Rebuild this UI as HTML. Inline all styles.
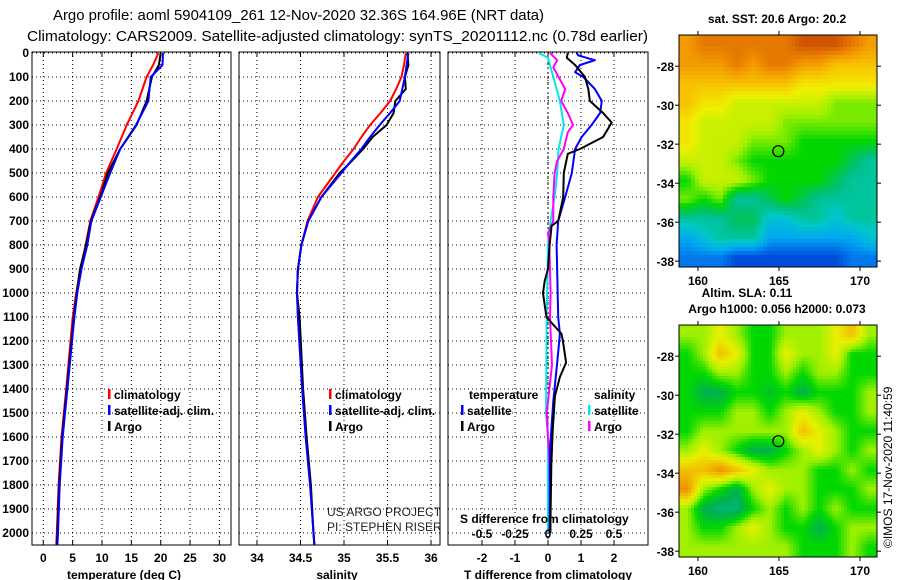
<!DOCTYPE html>
<html><head><meta charset="utf-8">
<style>
html,body{margin:0;padding:0;background:#fff;}
svg{display:block;font-family:"Liberation Sans",sans-serif;}
.lbl{font-size:12px;font-weight:bold;fill:#000;}
.ttl{font-size:15px;fill:#000;}
.grid{stroke:#000;stroke-width:1;stroke-dasharray:1,3;fill:none;}
.frame{fill:none;stroke:#000;stroke-width:1;}
.ln{fill:none;stroke-width:2;stroke-linejoin:round;}
</style></head>
<body>
<svg id="chart" width="900" height="580" viewBox="0 0 900 580" xmlns="http://www.w3.org/2000/svg">
<defs>
<clipPath id="c1"><rect x="32" y="52" width="199" height="493"/></clipPath>
<clipPath id="c2"><rect x="239" y="52" width="201" height="493"/></clipPath>
<clipPath id="c3"><rect x="448" y="52" width="200" height="493"/></clipPath>
</defs>
<text class="ttl" x="53" y="20" textLength="491" lengthAdjust="spacingAndGlyphs">Argo profile: aoml 5904109_261 12-Nov-2020 32.36S 164.96E (NRT data)</text>
<text class="ttl" x="27" y="41" textLength="621" lengthAdjust="spacingAndGlyphs">Climatology: CARS2009. Satellite-adjusted climatology: synTS_20201112.nc (0.78d earlier)</text>
<g id="g1"></g>
<g id="g2"></g>
<g id="g3"></g>
<g id="m1"></g>
<g id="m2"></g>
<text x="0" y="0" transform="translate(892,548) rotate(-90)" style="font-size:12px" fill="#000">©IMOS 17-Nov-2020 11:40:59</text>
</svg>
<script>
// ---- data ----
const depthTicks = [0,100,200,300,400,500,600,700,800,900,1000,1100,1200,1300,1400,1500,1600,1700,1800,1900,2000];
const tTicks = [0,5,10,15,20,25,30];
const sTicks = [34,34.5,35,35.5,36];
const tdTicks = [-2,-1,0,1,2];
const sdTicks = [-0.5,-0.25,0,0.25,0.5];
const sdTickLabels = ["-0.5","-0.25","0","0.25","0.5"];

const tDepth = [0,50,100,200,300,400,500,600,700,800,900,1000,1100,1400,1600,1800,2000,2050];
const tArgo = [20.0,19.7,18.5,17.6,15.9,13.1,11.0,9.7,8.1,7.3,6.25,5.7,5.2,4.0,3.2,2.7,2.4,2.3];
const tClim = [19.6,18.7,17.6,16.2,14.2,12.5,10.7,9.4,8.0,7.2,6.3,5.6,5.0,3.9,3.1,2.6,2.3,2.2];
const tSat = [20.4,20.3,18.3,17.9,15.8,13.1,11.4,9.8,8.2,7.5,6.5,5.8,5.3,4.1,3.3,2.8,2.5,2.4];

const sDepth = [0,50,100,150,200,250,300,350,400,450,500,600,700,800,900,1000,1100,1400,1600,1800,2000,2050];
const sArgo = [35.73,35.74,35.70,35.71,35.59,35.57,35.49,35.33,35.22,35.09,34.95,34.74,34.59,34.51,34.47,34.46,34.49,34.53,34.57,34.62,34.65,34.66];
const sClim = [35.71,35.69,35.66,35.60,35.53,35.42,35.30,35.20,35.11,35.00,34.90,34.70,34.58,34.51,34.47,34.46,34.47,34.52,34.56,34.61,34.65,34.66];
const sSat = [35.74,35.72,35.70,35.67,35.64,35.53,35.41,35.30,35.20,35.08,34.97,34.74,34.59,34.51,34.47,34.46,34.47,34.52,34.56,34.61,34.65,34.66];

const dTArgoDepth = [0,20,50,100,150,200,250,290,350,400,420,500,600,700,720,800,900,950,1000,1100,1170,1200,1290,1350,1430,1580,1720,2000];
const dTArgo = [0.6,0.57,0.82,1.12,1.22,1.27,1.67,1.93,1.67,0.97,0.6,0.48,0.46,0.31,0.11,0.05,0.0,-0.1,-0.15,-0.05,0.41,0.45,0.55,0.36,0.21,0.14,0.1,0.07];
const dTSatDepth = [0,10,30,50,80,100,150,200,250,300,350,400,500,600,700,800,1100,1170,1290,1450,1650,2000];
const dTSat = [0.87,0.92,1.42,0.97,0.82,1.07,1.42,1.63,1.58,1.32,1.02,0.82,0.72,0.52,0.31,0.26,0.31,0.36,0.28,0.16,0.06,0.05];
const dSSatDepth = [0,20,100,200,300,400,500,600,700,800,1100,1500,1600,2000];
const dSSat = [-0.07,0.0,0.04,0.09,0.12,0.08,0.07,0.05,0.02,0.0,-0.01,-0.015,0.0,0.0];
const dSArgoDepth = [0,30,60,100,150,200,250,300,330,400,450,500,600,700,750,800,1000,1100,1300,1500,1700,2000];
const dSArgo = [0.015,0.07,0.04,0.08,0.13,0.10,0.15,0.19,0.15,0.12,0.07,0.05,0.04,0.04,0.0,0.01,0.02,0.015,0.03,-0.01,0.01,0.02];

const lonTicks = [160,165,170];
const latTicks = [-28,-30,-32,-34,-36,-38];
const argoLon = 164.96, argoLat = -32.36;
const sstGrid = [
[1.5,1,1,1,1,1,1,0.5,0.5,0.5,1,1.5],
[1.5,1.5,1.5,1,1.5,1,1,1.5,1.5,2,2,2],
[2,2,2,2,2,2,2,2.5,2.5,2.5,2.5,2.5],
[2,2.5,2.5,3,3,3,3,3,3,3.5,3.5,3.5],
[2.5,3,3,3,3,3,3.5,3.5,3.5,3.5,3.5,3.5],
[2.5,3,3,3,3.5,3.5,3.5,4,4,4,4,4],
[3,3,3,3.5,4,4,4,4,4,4,4.5,5],
[4,3,3,3,3.5,4,4,4,4,4.5,5,5],
[3.5,4,3.5,5,5,4.5,4,4.5,5,5,5,5],
[5,5,5,4.5,4.5,5.5,5.5,5,5,5.5,5,5],
[6,5.5,5,5,5,6,6,6,6,6,6,5.5],
[6.5,6.5,6.5,7,7,7,7,7,7,7,6.5,6.5]];
const slaGrid = [
[3,3,4,3,2,2,3,3,3,4,5,3],
[2,3,5,4,2,2,4,3,3,4,2,2],
[2,2,3,3,2,2,3,2,3,3,2,2],
[2,1,1,2,2,1.5,2,1,2,2,2,3],
[2,2,2,3,3,2,3,4,3,2,2,3],
[2,3,3,3,3,3,3,5,4,3,2,2],
[3,4,3,2,1,1,2,3,4,3,2,3],
[5,5,6,5,4,3,3,3,2,2,3,2],
[6,3,2,1,3,4,3,3,2,2,2,3],
[3,1,0.5,0.5,2,3,2,3,2,3,2,2],
[3,2,2,3,4,3,2,2,1,2,3,3],
[3,3,3,3,3,3,3,2,2,2,3,2]];
const sstColors = ["#b03000","#d86000","#f09000","#f8c000","#f0f000","#a0f000","#00d800","#00c070","#00c8c8","#00a8f0","#0068e8","#0030c8","#0010a0"];
const slaColors = ["#00c0a0","#00b050","#00d800","#a0f000","#e8f000","#f0c000","#f09000"];

// ---- helpers ----
const NS = "http://www.w3.org/2000/svg";
function mk(tag, attrs, parent){ const e=document.createElementNS(NS,tag); for(const k in attrs) e.setAttribute(k,attrs[k]); if(parent) parent.appendChild(e); return e; }
const yD = d => 53 + d*0.24;
const xT = t => 43.3 + t*5.87;
const xS = s => 257 + (s-34)*87;
const xTd = v => 548 + v*33;
const xSd = v => 548 + v*132;
const TOP=52, BOT=545;

function panel(g, x0, x1, vTicks, xf, labels, title, titleX){
  for(const d of depthTicks){
    const l = mk('line',{x1:x0,x2:x1,y1:yD(d),y2:yD(d),class:'grid'},g);
    
    
  }
  vTicks.forEach((v,i)=>{
    const x=xf(v);
    const l=mk('line',{x1:x,x2:x,y1:TOP,y2:BOT,class:'grid'},g);
    
    
    mk('line',{x1:x,x2:x,y1:TOP,y2:TOP+5,stroke:'#000'},g);
    mk('line',{x1:x,x2:x,y1:BOT,y2:BOT-5,stroke:'#000'},g);
    const t=mk('text',{x:x,y:562,'text-anchor':'middle',class:'lbl'},g);
    t.textContent = labels ? labels[i] : String(v);
    
    
  });
  const r=mk('rect',{x:x0,y:TOP,width:x1-x0,height:BOT-TOP,class:'frame'},g);
  
  
  const tt=mk('text',{x:titleX,y:579,'text-anchor':'middle',class:'lbl'},g);
  tt.textContent=title;
  
  
}
function line(g, depths, vals, xf, color, clip, name, w){
  const pts = depths.map((d,i)=> xf(vals[i]).toFixed(1)+','+yD(d).toFixed(1)).join(' ');
  const p = mk('polyline',{points:pts,class:'ln',stroke:color,'clip-path':'url(#'+clip+')','stroke-width':w||2},g);
  
  
}
function legend(g, x, y, color, label, name){
  const b=mk('rect',{x:x,y:y-10,width:2.5,height:10,fill:color},g);
  
  
  const t=mk('text',{x:x+6,y:y,class:'lbl'},g);
  t.textContent=label;
  
  
}

const svg=document.getElementById('chart');
// y labels
for(const d of depthTicks){
  const t=mk('text',{x:29,y:yD(d)+4,'text-anchor':'end',class:'lbl'},svg);
  t.textContent=String(d);
  
  
}
// panel 1
const g1=document.getElementById('g1');
panel(g1,32,231,tTicks,xT,null,'temperature (deg C)',124);
line(g1,tDepth,tClim,xT,'#ff0000','c1','temp-climatology-line');
line(g1,tDepth,tArgo,xT,'#000000','c1','temp-argo-line');
line(g1,tDepth,tSat,xT,'#0000ff','c1','temp-satellite-line',2.2);
legend(g1,108,399,'#ff0000','climatology','legend-climatology');
legend(g1,108,415,'#0000ff','satellite-adj. clim.','legend-satellite-adj');
legend(g1,108,431,'#000000','Argo','legend-argo');
// panel 2
const g2=document.getElementById('g2');
panel(g2,239,440,sTicks,xS,null,'salinity',337);
line(g2,sDepth,sClim,xS,'#ff0000','c2','sal-climatology-line');
line(g2,sDepth,sArgo,xS,'#000000','c2','sal-argo-line');
line(g2,sDepth,sSat,xS,'#0000ff','c2','sal-satellite-line',2.2);
legend(g2,329,399,'#ff0000','climatology','legend-climatology');
legend(g2,329,415,'#0000ff','satellite-adj. clim.','legend-satellite-adj');
legend(g2,329,431,'#000000','Argo','legend-argo');
const cr=mk('g',{'clip-path':'url(#c2)'},g2);
let t1=mk('text',{x:327,y:516,style:'font-size:12px',fill:'#222'},cr); t1.textContent='US ARGO PROJECT';
 
let t2=mk('text',{x:327,y:531,style:'font-size:12px',fill:'#222'},cr); t2.textContent='PI: STEPHEN RISER';
 
// panel 3
const g3=document.getElementById('g3');
panel(g3,448,648,tdTicks,xTd,null,'T difference from climatology',548);
mk('line',{x1:548,x2:548,y1:TOP,y2:BOT,stroke:'#000','stroke-dasharray':'2,3'},g3);
line(g3,dSSatDepth,dSSat,xSd,'#00e8e8','c3','sal-sat-diff-line');
line(g3,dSArgoDepth,dSArgo,xSd,'#ff00ff','c3','sal-argo-diff-line');
line(g3,dTSatDepth,dTSat,xTd,'#0000ff','c3','temp-sat-diff-line');
line(g3,dTArgoDepth,dTArgo,xTd,'#000000','c3','temp-argo-diff-line');
let lt=mk('text',{x:469,y:399,class:'lbl'},g3); lt.textContent='temperature';
 
let ls=mk('text',{x:594,y:399,class:'lbl'},g3); ls.textContent='salinity';
 
legend(g3,461,415,'#0000ff','satellite','legend-temp-satellite');
legend(g3,461,431,'#000000','Argo','legend-temp-argo');
legend(g3,588,415,'#00e8e8','satellite','legend-sal-satellite');
legend(g3,588,431,'#ff00ff','Argo','legend-sal-argo');
let sdt=mk('text',{x:460,y:523,class:'lbl'},g3); sdt.textContent='S difference from climatology';
 
sdTicks.forEach((v,i)=>{
  const t=mk('text',{x:xSd(v),y:538,'text-anchor':'middle',class:'lbl'},g3);
  t.textContent=sdTickLabels[i];
  
  
});

// ---- maps ----
function hex(c){return [parseInt(c.substr(1,2),16),parseInt(c.substr(3,2),16),parseInt(c.substr(5,2),16)];}
function cmap(v, cols, vmax){
  let f=Math.max(0,Math.min(1,v/vmax))*(cols.length-1);
  const i=Math.min(cols.length-2,Math.floor(f)); const u=f-i;
  const a=hex(cols[i]), b=hex(cols[i+1]);
  return 'rgb('+a.map((x,k)=>Math.round(x+(b[k]-x)*u)).join(',')+')';
}
function sample(grid, fx, fy){
  const R=grid.length, C=grid[0].length;
  let cx=Math.max(0,Math.min(C-1,fx*C-0.5)), cy=Math.max(0,Math.min(R-1,fy*R-0.5));
  const x0=Math.floor(cx), y0=Math.floor(cy), x1=Math.min(C-1,x0+1), y1=Math.min(R-1,y0+1);
  const u=cx-x0, w=cy-y0;
  return grid[y0][x0]*(1-u)*(1-w)+grid[y0][x1]*u*(1-w)+grid[y1][x0]*(1-u)*w+grid[y1][x1]*u*w;
}
function drawMap(g, top, grid, cols, vmax, cell, title, titleY, name){
  const L=679, R=877, W=R-L, H=232, B=top+H;
  const lonL=158.83, lonR=171.05, latT=-26.4, latB=-38.3;
  const xL = lon => L+(lon-lonL)/(lonR-lonL)*W;
  const yL = lat => top+(latT-lat)/(latT-latB)*H;
  for(let y=0;y<H;y+=cell){
    for(let x=0;x<W;x+=cell){
      const v=sample(grid,(x+cell/2)/W,(y+cell/2)/H);
      const r=mk('rect',{x:L+x,y:top+y,width:Math.min(cell,W-x)+0.3,height:Math.min(cell,H-y)+0.3,fill:cmap(v,cols,vmax)},g);
      
      
    }
  }
  const f=mk('rect',{x:L,y:top,width:W,height:H,fill:'none',stroke:'#000'},g);
  
  
  for(const lon of lonTicks){
    const x=xL(lon);
    mk('line',{x1:x,x2:x,y1:top-4,y2:top,stroke:'#000'},g);
    mk('line',{x1:x,x2:x,y1:B,y2:B+4,stroke:'#000'},g);
    const t=mk('text',{x:x,y:B+18,'text-anchor':'middle',class:'lbl'},g);
    t.textContent=String(lon);
    
    
  }
  for(const lat of latTicks){
    const y=yL(lat);
    mk('line',{x1:L-4,x2:L,y1:y,y2:y,stroke:'#000'},g);
    mk('line',{x1:R,x2:R+4,y1:y,y2:y,stroke:'#000'},g);
    const t=mk('text',{x:L-5,y:y+5,'text-anchor':'end',class:'lbl'},g);
    t.textContent=String(lat);
    
    
  }
  const c=mk('circle',{cx:xL(argoLon),cy:yL(argoLat),r:5.5,fill:'none',stroke:'#000','stroke-width':1.2},g);
  
  
  const t=mk('text',{x:777,y:titleY,'text-anchor':'middle',class:'lbl'},g);
  t.textContent=title;
  
  
}
drawMap(document.getElementById('m1'),35,sstGrid,sstColors,8,4,'sat. SST: 20.6 Argo: 20.2',23,'sst-map');
drawMap(document.getElementById('m2'),325,slaGrid,slaColors,6,3,'Argo h1000: 0.056 h2000: 0.073',313,'sla-map');
let sla=mk('text',{x:747,y:297,'text-anchor':'middle',class:'lbl'},svg); sla.textContent='Altim. SLA: 0.11';
 
</script>
</body></html>
